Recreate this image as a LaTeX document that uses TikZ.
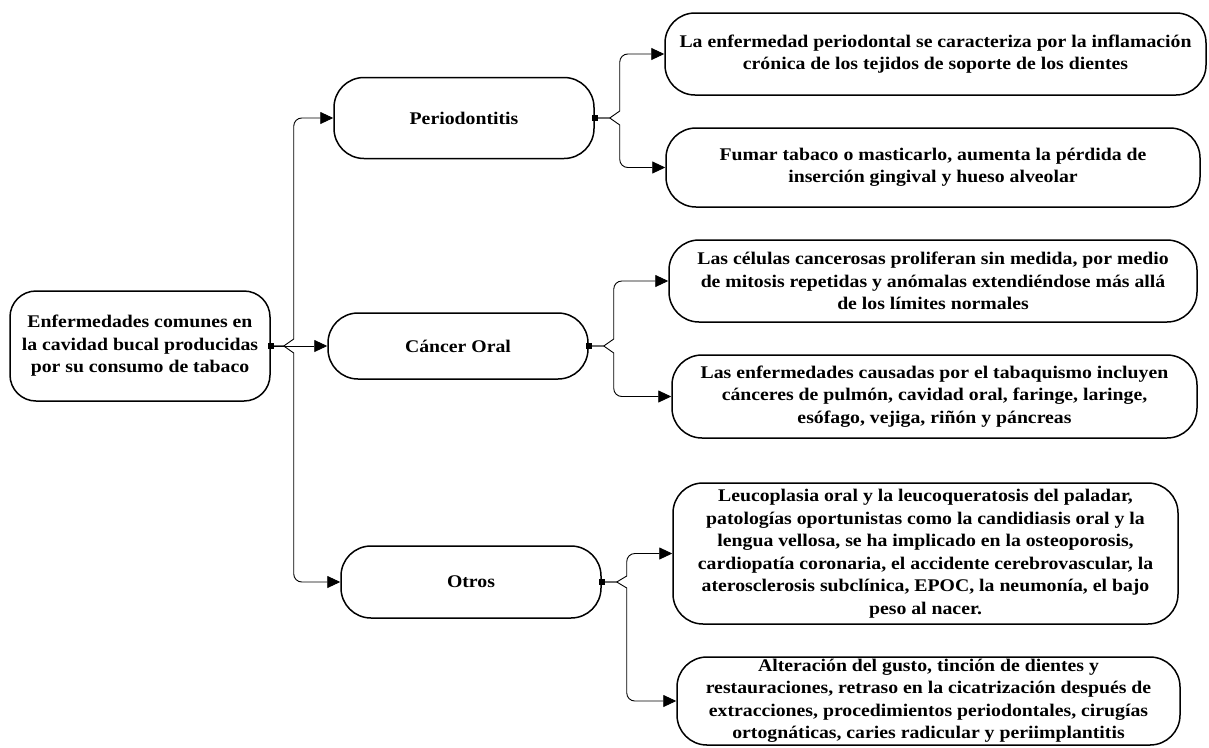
\documentclass[tikz,border=0pt]{standalone}
\usepackage{fontspec}
\setmainfont[FakeStretch=1.11]{Liberation Serif}
\usetikzlibrary{arrows.meta}
\begin{document}
\begin{tikzpicture}[x=1pt,y=-1pt,
  box/.style={draw, line width=1.5pt, rounded corners=#1, inner sep=0pt, align=center,
    font=\fontsize{17.8}{22.5}\selectfont\bfseries},
  conn/.style={line width=0.9pt, {Square[length=6.5pt,width=6.5pt]}-{Triangle[length=13pt,width=12pt]}}]
\useasboundingbox (0,0) rectangle (1209,747);

\node[box=26pt, minimum width=260pt, minimum height=110pt] (root) at (140,346)
  {Enfermedades comunes en\\la cavidad bucal producidas\\por su consumo de tabaco};

\node[box=30pt, minimum width=260pt, minimum height=81pt] (perio) at (464,118) {Periodontitis};
\node[box=30pt, minimum width=260pt, minimum height=66pt] (cancer) at (458,346) {Cáncer Oral};
\node[box=30pt, minimum width=260pt, minimum height=72pt] (otros) at (471,582) {Otros};

\node[box=30pt, minimum width=541pt, minimum height=82pt] (r1) at (935.5,54)
  {La enfermedad periodontal se caracteriza por la inflamación\\crónica de los tejidos de soporte de los dientes};
\node[box=30pt, minimum width=534pt, minimum height=79pt] (r2) at (933,167.5)
  {Fumar tabaco o masticarlo, aumenta la pérdida de\\inserción gingival y hueso alveolar};
\node[box=30pt, minimum width=528pt, minimum height=82pt] (r3) at (933,281)
  {Las células cancerosas proliferan sin medida, por medio\\de mitosis repetidas y anómalas extendiéndose más allá\\de los límites normales};
\node[box=30pt, minimum width=525pt, minimum height=83pt] (r4) at (934.5,396.5)
  {Las enfermedades causadas por el tabaquismo incluyen\\cánceres de pulmón, cavidad oral, faringe, laringe,\\esófago, vejiga, riñón y páncreas};
\node[box=30pt, minimum width=505pt, minimum height=141pt] (r5) at (925.5,553.5)
  {Leucoplasia oral y la leucoqueratosis del paladar,\\patologías oportunistas como la candidiasis oral y la\\lengua vellosa, se ha implicado en la osteoporosis,\\cardiopatía coronaria, el accidente cerebrovascular, la\\aterosclerosis subclínica, EPOC, la neumonía, el bajo\\peso al nacer.};
\node[box=30pt, minimum width=503pt, minimum height=88pt] (r6) at (928.5,701)
  {Alteración del gusto, tinción de dientes y\\restauraciones, retraso en la cicatrización después de\\extracciones, procedimientos periodontales, cirugías\\ortognáticas, caries radicular y periimplantitis};

% root branches
\draw[conn] ([xshift=-3pt]root.east) -- ++(16,0) -- ++(10,-7) [rounded corners=8pt] |- (perio.west);
\draw[conn] ([xshift=-3pt]root.east) -- (cancer.west);
\draw[conn] ([xshift=-3pt]root.east) -- ++(16,0) -- ++(10,7) [rounded corners=8pt] |- (otros.west);

% periodontitis
\draw[conn] ([xshift=-3pt]perio.east) -- ++(18,0) -- ++(10,-7) [rounded corners=8pt] |- (r1.west);
\draw[conn] ([xshift=-3pt]perio.east) -- ++(18,0) -- ++(10,7) [rounded corners=8pt] |- (r2.west);

% cancer
\draw[conn] ([xshift=-3pt]cancer.east) -- ++(18,0) -- ++(10,-7) [rounded corners=8pt] |- (r3.west);
\draw[conn] ([xshift=-3pt]cancer.east) -- ++(18,0) -- ++(10,7) [rounded corners=8pt] |- (r4.west);

% otros
\draw[conn] ([xshift=-3pt]otros.east) -- ++(18,0) -- ++(10,-6) [rounded corners=8pt] |- (r5.west);
\draw[conn] ([xshift=-3pt]otros.east) -- ++(18,0) -- ++(10,6) [rounded corners=8pt] |- (r6.west);
\end{tikzpicture}
\end{document}
